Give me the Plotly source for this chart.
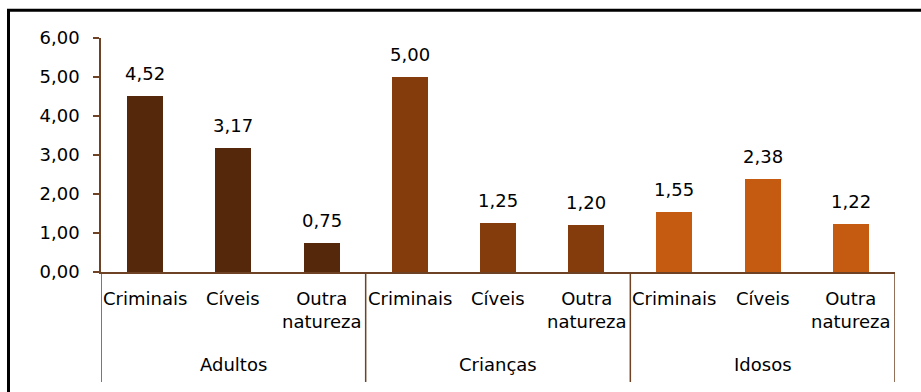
import plotly.graph_objects as go

# Data
groups = ["Adultos", "Crianças", "Idosos"]
subcats = ["Criminais", "Cíveis", "Outra<br>natureza"]
adultos = [4.52, 3.17, 0.75]
criancas = [5.00, 1.25, 1.20]
idosos = [1.55, 2.38, 1.22]
group_colors = ["#55280B", "#843C0C", "#C55A11"]
y_ticks = [0, 1, 2, 3, 4, 5, 6]

series = [adultos, criancas, idosos]
AXIS_COLOR = "#6E4225"
FONT = "DejaVu Sans"

fig = go.Figure()
annotations = []
shapes = []

for gi, (gname, vals, col) in enumerate(zip(groups, series, group_colors)):
    xs = [gi * 3 + k + 0.5 for k in range(3)]
    fig.add_trace(go.Bar(
        x=xs, y=vals, width=0.408, marker=dict(color=col, line=dict(width=0)),
        showlegend=False, hoverinfo="skip",
    ))
    for x, v, lab in zip(xs, vals, subcats):
        # value label above each bar
        annotations.append(dict(
            x=x, y=v, xref="x", yref="y", text=f"{v:.2f}".replace(".", ","),
            showarrow=False, yanchor="bottom", yshift=10,
            font=dict(family=FONT, size=18, color="#000000"),
        ))
        # category label under the axis
        annotations.append(dict(
            x=x, y=0, xref="x", yref="paper", text=lab, showarrow=False,
            yanchor="top", yshift=-14,
            font=dict(family=FONT, size=18, color="#000000"),
        ))
    # group label
    annotations.append(dict(
        x=gi * 3 + 1.5, y=0, xref="x", yref="paper", text=gname, showarrow=False,
        yanchor="top", yshift=-80,
        font=dict(family=FONT, size=18, color="#000000"),
    ))

# group separators below the category axis
for xb in [0, 3, 6, 9]:
    shapes.append(dict(
        type="line", xref="x", yref="paper", x0=xb, x1=xb, y0=0, y1=-0.47,
        line=dict(color=AXIS_COLOR, width=1.5),
    ))

# outer frame
shapes.append(dict(
    type="rect", xref="paper", yref="paper", x0=-0.1165, x1=1.2, y0=-0.8, y1=1.119,
    line=dict(color="#000000", width=3), fillcolor="rgba(0,0,0,0)", layer="below",
))

fig.update_layout(
    width=921, height=392,
    margin=dict(l=101, r=26, t=38, b=120, pad=0),
    paper_bgcolor="#FFFFFF", plot_bgcolor="#FFFFFF",
    separators=",.",
    bargap=0,
    annotations=annotations, shapes=shapes,
    xaxis=dict(
        range=[0, 9], showgrid=False, zeroline=False, showticklabels=False,
        ticks="", showline=True, linecolor=AXIS_COLOR, linewidth=1.5, fixedrange=True,
    ),
    yaxis=dict(
        range=[0, 6], tickvals=y_ticks, tickformat=".2f", showgrid=False,
        zeroline=False, showline=True, linecolor=AXIS_COLOR, linewidth=1.5,
        ticks="outside", ticklen=6, tickcolor=AXIS_COLOR, tickwidth=1.5,
        ticklabelstandoff=10,
        tickfont=dict(family=FONT, size=18, color="#000000"), fixedrange=True,
    ),
)

fig.write_html("out.html", config={"displayModeBar": False})
